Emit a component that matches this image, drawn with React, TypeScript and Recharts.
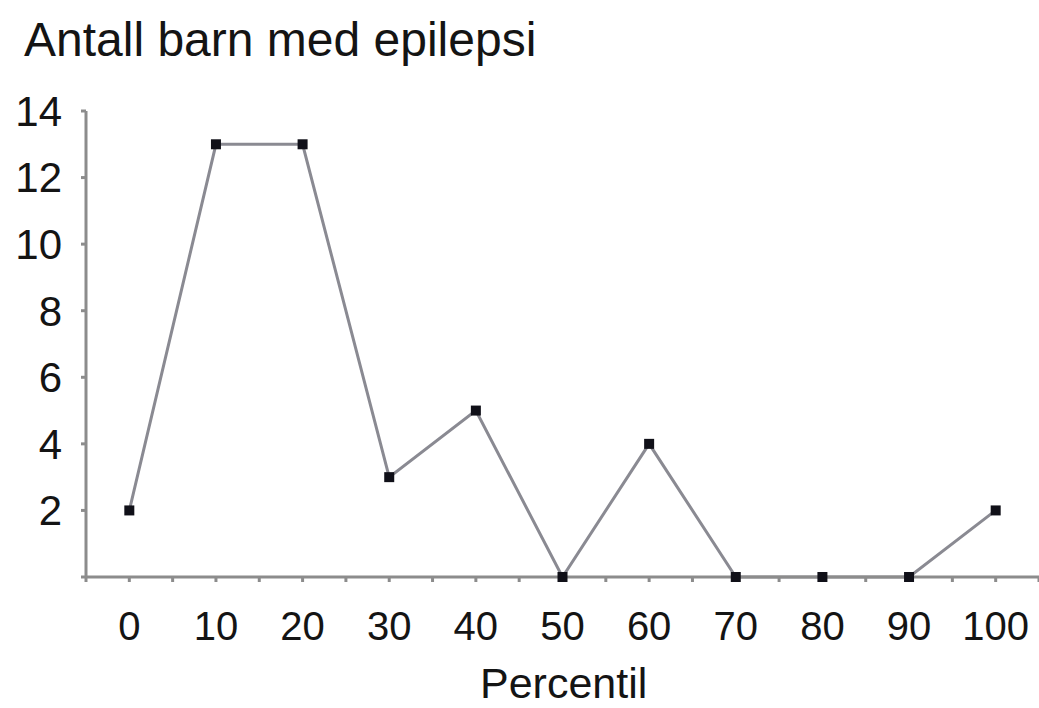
import React from 'react';
import { LineChart, Line, XAxis, YAxis } from 'recharts';

// percentil (x) og antall barn med epilepsi (y)
const percentiles = [0, 10, 20, 30, 40, 50, 60, 70, 80, 90, 100];
const counts = [2, 13, 13, 3, 5, 0, 4, 0, 0, 0, 2];
const xTicks = [-5, 0, 5, 10, 15, 20, 25, 30, 35, 40, 45, 50, 55, 60, 65, 70, 75, 80, 85, 90, 95, 100, 105];
const yTicks = [0, 2, 4, 6, 8, 10, 12, 14];

const data = percentiles.map((p, i) => ({ p, n: counts[i] }));

const FONT = '"Liberation Sans", Arial, sans-serif';
const TEXT = '#141414';
const AXIS = '#8c8c8c';

// liten svart markør som i originalen
const Marker = (props: any) => {
  const { cx, cy } = props;
  if (cx == null || cy == null) return null;
  return <rect x={cx - 5} y={cy - 5} width={10} height={10} fill="#101018" />;
};

export default function App() {
  return (
    <div style={{ position: 'absolute', left: 0, top: 0, width: 1039, height: 708, background: '#fff', fontFamily: FONT }}>
      <div style={{ position: 'absolute', left: 24, top: 16, fontSize: 48, color: TEXT, whiteSpace: 'nowrap', lineHeight: 1 }}>
        Antall barn med epilepsi
      </div>
      <LineChart width={1039} height={708} data={data} margin={{ top: 111, right: 0, bottom: 71, left: 0 }}>
        <XAxis
          dataKey="p"
          type="number"
          domain={[-5, 105]}
          ticks={xTicks}
          interval={0}
          tickSize={5}
          tickMargin={30}
          height={60}
          stroke={AXIS}
          strokeWidth={3}
          tick={{ fontSize: 40, fill: TEXT, fontFamily: FONT }}
          tickFormatter={(v: number) => (v >= 0 && v % 10 === 0 ? String(v) : '')}
        />
        <YAxis
          type="number"
          domain={[0, 14]}
          ticks={yTicks}
          interval={0}
          width={86}
          tickSize={5}
          tickMargin={19}
          stroke={AXIS}
          strokeWidth={3}
          tick={{ fontSize: 42, fill: TEXT, fontFamily: FONT }}
          tickFormatter={(v: number) => (v === 0 ? '' : String(v))}
        />
        <Line
          type="linear"
          dataKey="n"
          stroke="#8a8a92"
          strokeWidth={3}
          dot={<Marker />}
          activeDot={false}
          isAnimationActive={false}
        />
      </LineChart>
      <div style={{ position: 'absolute', left: 480, top: 662, fontSize: 43, color: TEXT, whiteSpace: 'nowrap', lineHeight: 1 }}>
        Percentil
      </div>
    </div>
  );
}
